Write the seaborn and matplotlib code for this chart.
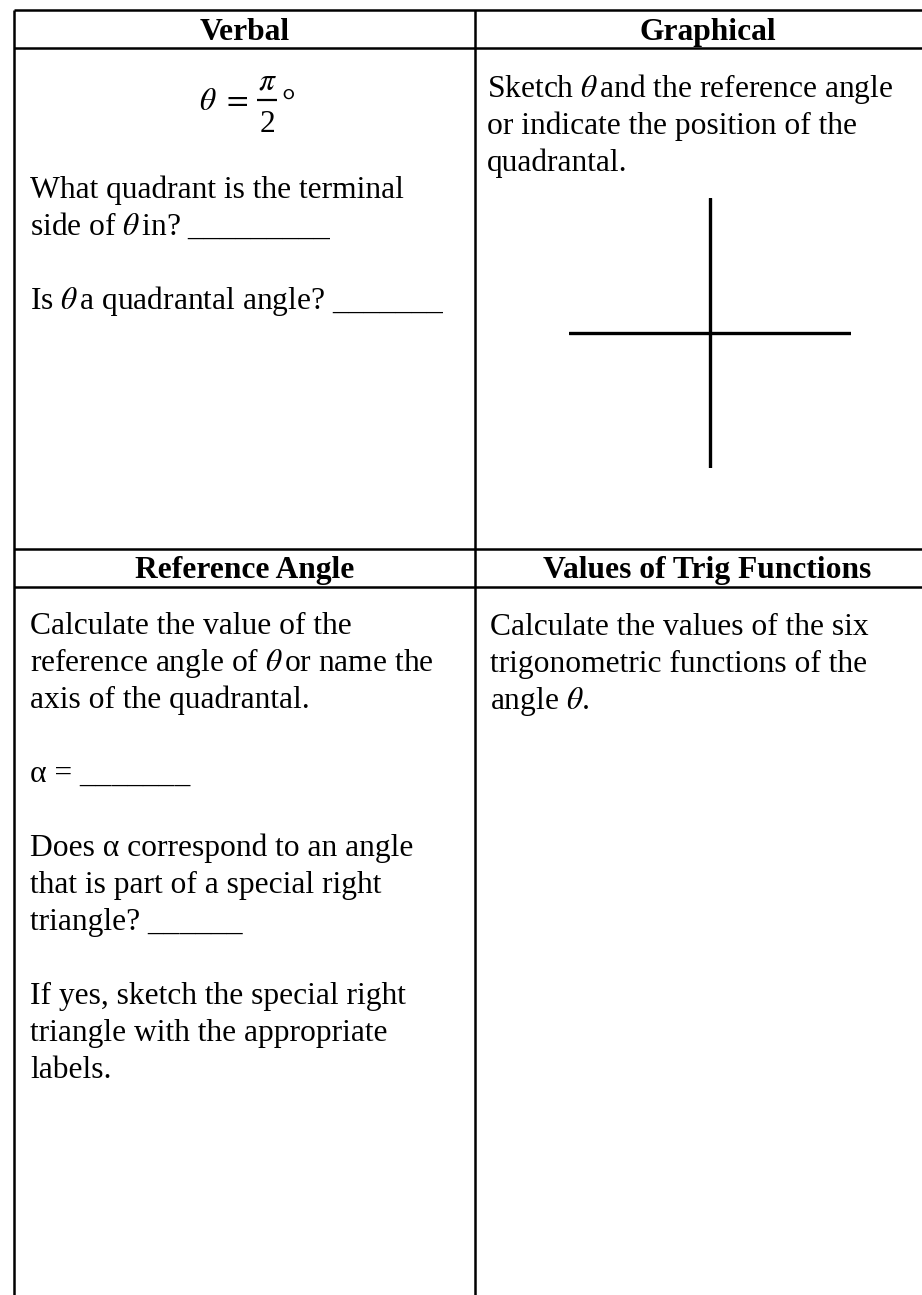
import matplotlib
matplotlib.use("Agg")
import matplotlib.pyplot as plt
import seaborn as sns
import pandas as pd

# Textos de la hoja de trabajo
headers = ["Verbal", "Graphical", "Reference Angle", "Values of Trig Functions"]
formula_lhs = r"$\theta\ =$"
formula_num = r"$\pi$"
formula_den = "2"
formula_tail = "°"
verbal_lines = [
    "What quadrant is the terminal",
    r"side of $\theta\,$in? _________",
    "",
    r"Is $\theta\,$a quadrantal angle? _______",
]
graphical_lines = [
    r"Sketch $\theta\,$and the reference angle",
    "or indicate the position of the",
    "quadrantal.",
]
reference_lines = [
    "Calculate the value of the",
    r"reference angle of $\theta\,$or name the",
    "axis of the quadrantal.",
    "",
    "α = _______",
    "",
    "Does α correspond to an angle",
    "that is part of a special right",
    "triangle? ______",
    "",
    "If yes, sketch the special right",
    "triangle with the appropriate",
    "labels.",
]
trig_lines = [
    "Calculate the values of the six",
    "trigonometric functions of the",
    r"angle $\theta$.",
]

# Ejes del bosquejo (cruz): eje x y eje y
axis_df = pd.DataFrame({
    "x": [-1, 1, 0, 0],
    "y": [0, 0, -1, 1],
    "eje": ["x", "x", "y", "y"],
})

# Configuración básica de Seaborn
sns.set_theme(style="white")
plt.rcParams["font.family"] = ["Liberation Serif", "DejaVu Serif"]
plt.rcParams["mathtext.fontset"] = "stix"
plt.rcParams["text.color"] = "black"

W, H = 922, 1295
fig = plt.figure(figsize=(W / 100, H / 100), dpi=100)
ax = fig.add_axes([0, 0, 1, 1])
ax.set_xlim(0, W)
ax.set_ylim(H, 0)
ax.axis("off")

# Cuadrícula de la tabla (en píxeles)
left, mid, right = 14, 475, 940
lw = 1.8
for y in [10, 48, 549, 587]:
    ax.plot([left, W + 5], [y, y], color="black", lw=lw, solid_capstyle="butt")
for x in [left, mid]:
    ax.plot([x, x], [10, H + 5], color="black", lw=lw, solid_capstyle="butt")

fs = 22.7
col_centers = [(left + mid) / 2, (mid + right) / 2]

# Encabezados
for i, h in enumerate(headers):
    y = 40 if i < 2 else 578
    ax.text(col_centers[i % 2], y, h, ha="center", va="baseline",
            fontsize=fs, fontweight="bold")

# Fórmula theta = pi/2 (fracción armada a mano)
ax.text(248, 110, formula_lhs, ha="right", va="baseline", fontsize=fs)
ax.text(267, 89, formula_num, ha="center", va="baseline", fontsize=fs)
ax.text(267, 132, formula_den, ha="center", va="baseline", fontsize=fs)
ax.plot([257, 277], [100, 100], color="black", lw=1.6, solid_capstyle="butt")
ax.text(281, 112, formula_tail, ha="left", va="baseline", fontsize=fs + 2)


def bloque(lines, x, y0, step=37):
    for k, t in enumerate(lines):
        if t:
            ax.text(x, y0 + k * step, t, ha="left", va="baseline", fontsize=fs)


bloque(verbal_lines, 30, 198)
bloque(graphical_lines, 487, 97)
bloque(reference_lines, 30, 634)
bloque(trig_lines, 490, 635)

# Cruz (ejes) en el cuadro gráfico
ax_c = fig.add_axes([569 / W, 1 - 468 / H, (851 - 569) / W, (468 - 198) / H])
sns.lineplot(data=axis_df, x="x", y="y", units="eje", estimator=None,
             color="black", linewidth=2.4, sort=False, ax=ax_c)
ax_c.set_xlim(-1, 1)
ax_c.set_ylim(-1, 1)
ax_c.axis("off")

fig.savefig("out.png", dpi=100)
